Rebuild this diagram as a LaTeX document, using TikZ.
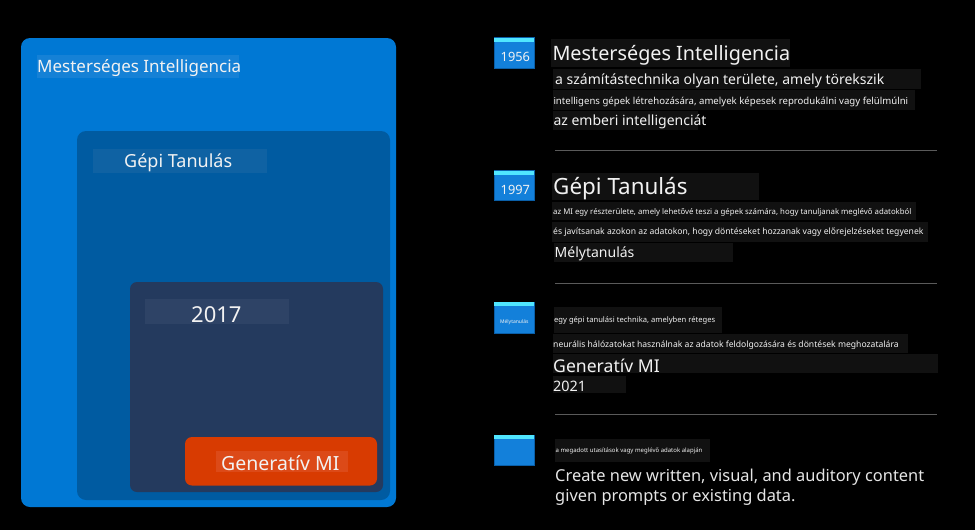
\documentclass[tikz,border=0pt]{standalone}
\usepackage{fontspec}
\setmainfont{Noto Sans}
\newcommand\myfs[1]{\fontsize{#1}{#1}\selectfont}
\definecolor{aiblue}{HTML}{0078D4}
\definecolor{aiband}{HTML}{1581D6}
\definecolor{mlblue}{HTML}{005BA1}
\definecolor{mlband}{HTML}{0F62A3}
\definecolor{dlnavy}{HTML}{243A5E}
\definecolor{dlband}{HTML}{2E4366}
\definecolor{genor}{HTML}{D83B01}
\definecolor{genband}{HTML}{DC4A18}
\definecolor{tband}{HTML}{111111}
\definecolor{sepgray}{HTML}{5A5A5A}
\definecolor{strip}{HTML}{50E6FF}
\definecolor{chip}{HTML}{1380DA}
\definecolor{chipedge}{HTML}{0A5FA8}
\definecolor{txt}{HTML}{F2F2F2}
\tikzset{
  lbl/.style={anchor=base west, inner sep=0pt, text=txt},
  chipbox/.style={fill=chip, draw=chipedge, line width=0.8pt},
  chipstrip/.style={fill=strip},
  sepline/.style={draw=sepgray, line width=1pt},
}
\begin{document}
\begin{tikzpicture}[x=1pt,y=-1pt]
\fill[black] (0,0) rectangle (975,530);
\useasboundingbox (0,0) rectangle (975,530);

% ---------- left nested boxes ----------
\fill[aiblue, rounded corners=9pt] (21,38) rectangle (396,507);
\fill[aiband] (37,55) rectangle (239,78);
\node[lbl, font=\myfs{17}] (aiL) at (37,72) {Mesterséges Intelligencia};

\fill[mlblue, rounded corners=9pt] (77,131) rectangle (390,500);
\fill[mlband] (93,149) rectangle (267,173);
\node[lbl, font=\myfs{18}] (mlL) at (124,167) {Gépi Tanulás};

\fill[dlnavy, rounded corners=7pt] (130,282) rectangle (383,492);
\fill[dlband] (145,299) rectangle (289,323.5);
\node[lbl, font=\myfs{22}] (dlL) at (191,322.5) {2017};

\fill[genor, rounded corners=7pt] (185,437) rectangle (377,485.5);
\fill[genband] (216,451) rectangle (348,471.5);
\node[lbl, font=\myfs{19.5}] (genL) at (221,470.5) {Generatív MI};

% ---------- right timeline ----------
% chips
\foreach \yt/\yb in {37.5/68.5, 170.7/200.7, 302.3/333.3, 435.3/465.3}{
  \filldraw[chipbox] (494.3,\yt) rectangle (534.3,\yb);
  \fill[chipstrip] (494.3,\yt) rectangle (534.3,\yt+4);
}
\node[lbl, font=\myfs{12.8}] (c1) at (500.5,61) {1956};
\node[lbl, font=\myfs{12.8}] (c2) at (500.5,194.3) {1997};
\node[anchor=center, inner sep=0pt, text=txt, font=\myfs{5}] (c3) at (514.3,322) {Mélytanulás};

% block 1
\fill[tband] (551,39) rectangle (790,67.3);
\node[lbl, font=\myfs{19.8}] (t1) at (552.3,60.7) {Mesterséges Intelligencia};
\fill[tband] (553.3,69) rectangle (921,89.3);
\node[lbl, font=\myfs{14}] (t1a) at (555,84.3) {a számítástechnika olyan területe, amely törekszik};
\fill[tband] (552.7,90) rectangle (915,110);
\node[lbl, font=\myfs{9.6}] (t1b) at (553.3,104) {intelligens gépek létrehozására, amelyek képesek reprodukálni vagy felülmúlni};
\fill[tband] (552.7,111) rectangle (697.7,130);
\node[lbl, font=\myfs{14}] (t1c) at (553.3,125) {az emberi intelligenciát};

\coordinate (s1a) at (555,150.3);
\coordinate (s1b) at (936.7,150.3);
\draw[sepline] (s1a) -- (s1b);

% block 2
\fill[tband] (551.7,172.7) rectangle (759.3,200);
\node[lbl, font=\myfs{22.4}] (t2) at (553,194.3) {Gépi Tanulás};
\fill[tband] (552.3,201.7) rectangle (916,220);
\node[lbl, font=\myfs{7.8}] (t2a) at (553,214.3) {az MI egy részterülete, amely lehetővé teszi a gépek számára, hogy tanuljanak meglévő adatokból};
\fill[tband] (552.3,222) rectangle (927.7,241.7);
\node[lbl, font=\myfs{8.6}] (t2b) at (553,234) {és javítsanak azokon az adatokon, hogy döntéseket hozzanak vagy előrejelzéseket tegyenek};
\fill[tband] (554,242.7) rectangle (732.7,261.7);
\node[lbl, font=\myfs{14}] (t2c) at (554.5,257.3) {Mélytanulás};

\coordinate (s2a) at (555,283);
\coordinate (s2b) at (936.7,283);
\draw[sepline] (s2a) -- (s2b);

% block 3
\fill[tband] (554,307.3) rectangle (721.7,332.7);
\node[lbl, font=\myfs{7.6}] (t3a) at (554,322.3) {egy gépi tanulási technika, amelyben réteges};
\fill[tband] (553,334.3) rectangle (908.3,353.3);
\node[lbl, font=\myfs{8.6}] (t3b) at (553,347.3) {neurális hálózatokat használnak az adatok feldolgozására és döntések meghozatalára};
\fill[tband] (553,354.3) rectangle (937.7,373.3);
\node[lbl, font=\myfs{17.6}] (t3c) at (553,372.3) {Generatív MI};
\fill[tband] (553,376) rectangle (626,392.7);
\node[lbl, font=\myfs{14.4}] (t3d) at (553,391) {2021};

\coordinate (s3a) at (555,414.5);
\coordinate (s3b) at (936.7,414.5);
\draw[sepline] (s3a) -- (s3b);

% block 4
\fill[tband] (555,439) rectangle (710,462);
\node[lbl, font=\myfs{6}] (t4a) at (555.5,452.3) {a megadott utasítások vagy meglévő adatok alapján};
\node[lbl, font=\myfs{16.4}, text=white!90!black] (t4b) at (555,481.7) {Create new written, visual, and auditory content};
\node[lbl, font=\myfs{16.4}, text=white!90!black] (t4c) at (555,501.7) {given prompts or existing data.};
\end{tikzpicture}
\end{document}
